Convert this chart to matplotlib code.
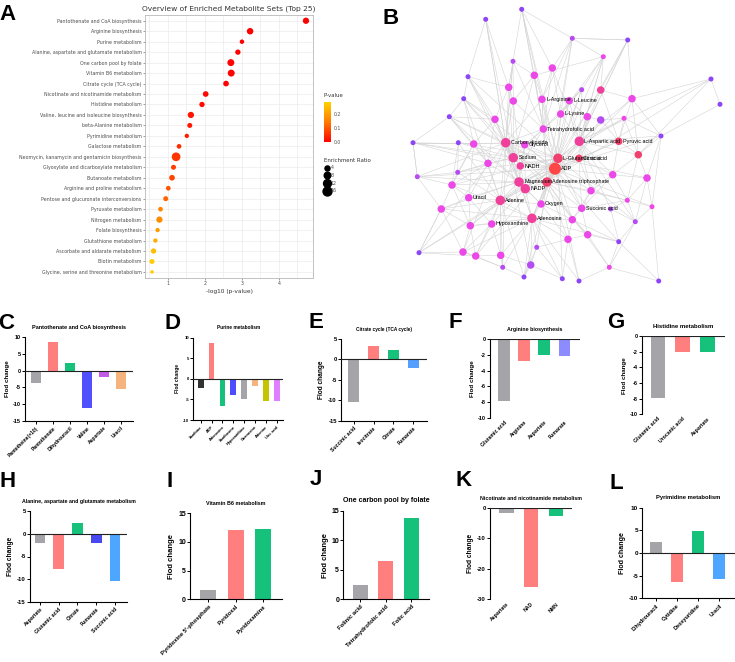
import numpy as np
import matplotlib
matplotlib.use("Agg")
import matplotlib.pyplot as plt
from matplotlib.collections import LineCollection
from matplotlib.colors import LinearSegmentedColormap, Normalize
from matplotlib.cm import ScalarMappable
from matplotlib.lines import Line2D

plt.rcParams['axes.unicode_minus'] = False

# ---------------- panel A data ----------------
pathways = ["Pantothenate and CoA biosynthesis", "Arginine biosynthesis", "Purine metabolism",
            "Alanine, aspartate and glutamate metabolism", "One carbon pool by folate",
            "Vitamin B6 metabolism", "Citrate cycle (TCA cycle)",
            "Nicotinate and nicotinamide metabolism", "Histidine metabolism",
            "Valine, leucine and isoleucine biosynthesis", "beta-Alanine metabolism",
            "Pyrimidine metabolism", "Galactose metabolism",
            "Neomycin, kanamycin and gentamicin biosynthesis",
            "Glyoxylate and dicarboxylate metabolism", "Butanoate metabolism",
            "Arginine and proline metabolism", "Pentose and glucuronate interconversions",
            "Pyruvate metabolism", "Nitrogen metabolism", "Folate biosynthesis",
            "Glutathione metabolism", "Ascorbate and aldarate metabolism", "Biotin metabolism",
            "Glycine, serine and threonine metabolism"]
neglogp = [4.73, 3.22, 3.00, 2.89, 2.70, 2.71, 2.57, 2.02, 1.92, 1.62, 1.59, 1.51, 1.30,
           1.22, 1.15, 1.11, 1.01, 0.94, 0.80, 0.77, 0.72, 0.66, 0.61, 0.57, 0.57]
enrich = [7, 7.6, 2.7, 4.5, 9, 9, 5.4, 5.4, 4.5, 7, 3.8, 2.3, 3.1, 15, 3.8, 5.4, 3.1, 3.8,
          3.1, 7, 2.3, 2.3, 4.5, 3.8, 1]
size_legend = [4, 8, 12, 16]

# ---------------- panel B data (network layout, pixel coords) ----------------
node_x = [521.7, 485.7, 572.3, 627.7, 603.3, 513.0, 552.3, 468.0, 534.3, 711.0,
          508.7, 581.7, 600.7, 463.7, 632.0, 720.0, 513.3, 542.0, 569.3, 449.3,
          560.7, 587.3, 600.7, 624.0, 495.0, 543.3, 661.0, 413.0, 458.3, 473.7,
          505.7, 524.7, 579.3, 618.7, 638.3, 513.3, 558.0, 579.0, 488.0, 520.3,
          555.0, 417.3, 457.7, 612.7, 647.0, 452.0, 519.0, 547.0, 525.3, 591.0,
          468.7, 500.3, 541.0, 441.3, 581.7, 610.7, 627.3, 652.0, 532.0, 572.3,
          635.3, 470.3, 491.7, 587.7, 568.0, 618.7, 419.0, 463.0, 475.7, 500.7,
          536.7, 502.7, 530.7, 609.3, 524.0, 562.3, 579.0, 658.7]
node_y = [9.3, 19.3, 38.3, 40.0, 56.7, 61.3, 68.0, 76.7, 75.3, 79.0,
          87.3, 89.7, 90.0, 98.7, 98.7, 104.3, 101.0, 99.3, 100.7, 116.7,
          114.0, 116.7, 120.0, 118.3, 119.3, 129.0, 136.0, 142.7, 142.7, 144.0,
          142.7, 144.7, 141.3, 141.3, 154.7, 157.7, 158.3, 158.3, 163.3, 166.0,
          168.7, 176.7, 172.3, 174.7, 178.0, 185.0, 182.0, 182.0, 188.7, 190.7,
          197.7, 200.3, 204.0, 209.0, 208.3, 209.0, 200.3, 206.7, 218.3, 219.7,
          221.7, 225.7, 224.0, 234.7, 239.3, 241.7, 252.7, 252.0, 256.0, 255.3,
          247.3, 267.3, 265.0, 267.3, 277.0, 278.7, 281.0, 281.0]
node_col = list("ppvpmvmpmp mvkpmpmmmp mmvmmmpppm kmkrrkrrmk Rvvmmmkrkm "
                "mkmmmvmmkm vmmmmppmmm vvvmpppp".replace(" ", ""))
node_sz = [1, 1, 1, 1, 1, 1, 2, 1, 2, 1, 2, 1, 2, 1, 2, 1, 2, 2, 2, 1,
           2, 2, 2, 1, 2, 2, 1, 1, 1, 2, 3, 2, 3, 2, 2, 3, 3, 2, 2, 2,
           4, 1, 1, 2, 2, 2, 3, 3, 3, 2, 2, 3, 2, 2, 2, 1, 1, 1, 3, 2,
           1, 2, 2, 2, 2, 1, 1, 2, 2, 2, 1, 1, 2, 1, 1, 1, 1, 1]
node_labels = {18: "L-Arginine", 19: "L-Leucine", 21: "L-Lysine", 26: "Tetrahydrofolic acid",
               31: "Carbon dioxide", 32: "Glycerol", 33: "L-Aspartic acid", 34: "Pyruvic acid",
               36: "Sodium", 37: "L-Glutamic acid", 38: "Citric acid", 40: "NADH", 41: "ADP",
               47: "Magnesium", 48: "Adenosine triphosphate", 49: "NADP", 51: "Uracil",
               52: "Adenine", 53: "Oxygen", 55: "Succinic acid", 59: "Adenosine",
               63: "Hypoxanthine"}
adjacency = {
    1: [7, 18, 11, 3, 9], 2: [8, 11, 31], 3: [5, 4, 7, 18, 21], 4: [3, 15, 13, 33],
    5: [9, 12, 13, 21, 37, 33], 6: [11, 17, 9, 31], 7: [18, 21, 26, 33], 8: [14, 11, 25, 36],
    9: [18, 17, 26, 36], 10: [16, 15, 35], 11: [25, 31, 17, 36], 12: [21, 19, 37, 33],
    13: [15, 34, 33, 37], 14: [20, 25, 31, 30], 15: [34, 35, 27, 37], 16: [27],
    17: [31, 36, 26, 40], 18: [19, 26, 37, 41, 48, 31], 19: [21, 22, 33, 37, 48],
    20: [25, 28, 30, 39], 21: [26, 37, 41, 33], 22: [33, 23, 38], 23: [34, 24, 38],
    24: [34, 35, 27], 25: [30, 31, 39, 36], 26: [31, 32, 37, 41, 48, 36, 40, 1, 3, 6, 9, 12],
    27: [35, 45, 58], 28: [29, 42, 30, 39], 29: [30, 43, 46], 30: [39, 31, 46, 51],
    31: [32, 36, 40, 47, 49, 41, 48, 52, 59, 37, 2, 6, 20, 28, 42, 67, 72, 68, 73, 64],
    32: [37, 40, 41, 47, 49],
    33: [34, 37, 38, 41, 48, 44, 50, 4, 5, 10, 24, 27, 35, 56, 61],
    34: [35, 38, 44, 41], 35: [45, 44, 57],
    36: [40, 39, 47, 52, 41, 2, 14, 29, 43, 28],
    37: [38, 41, 48, 49, 40, 53, 59, 55, 47, 52, 1, 8, 29, 43, 46, 62, 69, 76, 61, 45, 24],
    38: [41, 44, 50, 55, 48], 39: [46, 51, 52, 47], 40: [47, 49, 41],
    41: [48, 49, 47, 52, 53, 59, 55, 50, 60, 44, 4, 14, 20, 28, 42, 54, 67, 75, 77, 66, 58,
         27],
    42: [43, 46, 54, 28], 43: [46, 39, 30],
    44: [45, 50, 57, 55], 45: [57, 58, 61], 46: [54, 51, 62],
    47: [48, 49, 52, 51, 59, 53, 8, 20, 25, 30, 42, 46],
    48: [49, 53, 59, 55, 60, 50, 3, 10, 12, 15, 23, 57, 74, 71, 65],
    49: [52, 53, 59, 63], 50: [55, 57, 60],
    51: [52, 62, 63, 54], 52: [59, 63, 53, 62, 70, 14, 29, 43, 54, 67, 75, 72, 69],
    53: [59, 55, 60, 65],
    54: [62, 67, 68], 55: [60, 64, 56, 57], 56: [57, 61, 66], 57: [58, 61], 58: [61, 78],
    59: [63, 60, 65, 70, 71, 73, 46, 54, 62, 68, 72, 75, 76, 77, 66],
    60: [64, 65, 66], 61: [66, 74], 62: [63, 68, 69],
    63: [69, 70, 68], 64: [66, 74, 65], 65: [71, 76, 77], 66: [74, 78], 67: [68, 69, 54],
    68: [69, 72], 69: [70, 72], 70: [72, 73], 71: [73, 75, 76], 72: [75], 73: [75, 76],
    74: [77, 78]}

# ---------------- bar panel data ----------------
c_names = ["Pantetheine(×10)", "Pantothenate", "Dihydrouracil", "Valine", "Aspartate", "Uracil"]
c_vals = [-3.7, 8.5, 2.4, -11.3, -2.0, -5.5]
d_names = ["Xanthine", "ADP", "Adenosine", "Xanthosine", "Hypoxanthine", "Guanosine",
           "Adenine", "Uric acid"]
d_vals = [-2.3, 8.8, -6.5, -4.0, -4.8, -1.8, -5.5, -5.4]
e_names = ["Succinic acid", "Isocitrate", "Citrate", "Fumarate"]
e_vals = [-10.3, 3.2, 2.2, -2.0]
f_names = ["Glutamic acid", "Arginine", "Aspartate", "Fumarate"]
f_vals = [-7.9, -2.8, -2.0, -2.1]
g_names = ["Glutamic acid", "Urocanic acid", "Aspartate"]
g_vals = [-7.9, -2.0, -2.0]
h_names = ["Aspartate", "Glutamic acid", "Citrate", "Fumarate", "Succinic acid"]
h_vals = [-2.0, -7.8, 2.3, -2.0, -10.3]
i_names = ["Pyridoxine 5'-phosphate", "Pyridoxal", "Pyridoxamine"]
i_vals = [1.6, 12.1, 12.2]
j_names = ["Folinic acid", "Tetrahydrofolic acid", "Folic acid"]
j_vals = [2.5, 6.5, 13.7]
k_names = ["Aspartate", "NAD", "NMN"]
k_vals = [-1.8, -26.0, -2.5]
l_names = ["Dihydrouracil", "Cytidine", "Deoxyuridine", "Uracil"]
l_vals = [2.4, -6.5, 4.8, -5.7]

GRAY, SAL, GRN = "#a4a4a9", "#ff7f7f", "#16c27b"

W, H = 735, 662
fig = plt.figure(figsize=(W / 100, H / 100), dpi=100)


def rect(l, t, r, b):
    return [l / W, 1 - b / H, (r - l) / W, (b - t) / H]


def letter(x, y, s):
    fig.text(x / W, 1 - y / H, s, fontsize=16, fontweight='bold', family='Liberation Sans',
             ha='center', va='center')


# ---------------- panel A ----------------
axA = fig.add_axes(rect(145, 15, 313, 277.7))
cmap = LinearSegmentedColormap.from_list("pv", ["#ff0000", "#ff7a00", "#ffd200"])
norm = Normalize(0, 0.28)
pvals = 10 ** (-np.array(neglogp))
ypos = np.arange(len(pathways))


def er_size(er):
    return 0.72 * np.sqrt(8 + 4.5 * np.asarray(er, float))


axA.scatter(neglogp, ypos, s=er_size(enrich) ** 2, c=pvals, cmap=cmap, norm=norm,
            linewidths=0, zorder=3)
axA.set_xlim(0.38, 4.92)
axA.set_ylim(len(pathways) - 0.45, -0.55)
axA.set_yticks(ypos)
axA.set_yticklabels(pathways, fontsize=3.3, color='#4d4d4d')
axA.set_xticks([1, 2, 3, 4])
axA.set_xticks([0.5, 1.5, 2.5, 3.5, 4.5], minor=True)
axA.tick_params(axis='both', length=1.5, width=0.4, color='#555555', labelsize=3.4,
                labelcolor='#4d4d4d', pad=1)
axA.tick_params(axis='x', which='minor', length=0)
axA.grid(True, which='both', color='#ebebeb', lw=0.5)
axA.set_axisbelow(True)
for sp in axA.spines.values():
    sp.set_color('#b8b8b8')
    sp.set_linewidth(0.6)
axA.set_xlabel("-log10 (p-value)", fontsize=4.2, color='#333333', labelpad=2)
axA.set_title("Overview of Enriched Metabolite Sets (Top 25)", fontsize=5.4, color='#333333',
              pad=3)

axCB = fig.add_axes(rect(324.3, 102, 330.7, 142.3))
cb = fig.colorbar(ScalarMappable(norm=norm, cmap=cmap), cax=axCB)
cb.outline.set_visible(False)
cb.set_ticks([0.0, 0.1, 0.2])
cb.ax.tick_params(length=0, labelsize=3.3, labelcolor='#4d4d4d', pad=2)
fig.text(323.5 / W, 1 - 95.7 / H, "P-value", fontsize=3.9, color='#333333', va='center')

handles = [Line2D([], [], marker='o', ls='', color='k', markersize=er_size(v))
           for v in size_legend]
leg = fig.legend(handles, [str(v) for v in size_legend], title="Enrichment Ratio",
                 loc='upper left', bbox_to_anchor=(320 / W, 1 - 154 / H), frameon=False,
                 fontsize=3.4, title_fontsize=3.9, labelspacing=0.55, handletextpad=0.2,
                 handlelength=1.2, borderpad=0.3)
leg._legend_box.align = "left"
for t in leg.get_texts():
    t.set_color('#4d4d4d')
leg.get_title().set_color('#333333')
letter(7.5, 15, "A")

# ---------------- panel B ----------------
axB = fig.add_axes(rect(340, 0, 735, 290))
axB.set_xlim(340, 735)
axB.set_ylim(290, 0)
axB.axis('off')
segs = []
for a, nbrs in adjacency.items():
    for b in nbrs:
        segs.append([(node_x[a - 1], node_y[a - 1]), (node_x[b - 1], node_y[b - 1])])
axB.add_collection(LineCollection(segs, colors='#d4d4d4', linewidths=0.4, zorder=1))
col_map = {'p': '#8e45f7', 'v': '#b44cf2', 'm': '#ec48e8', 'k': '#f0409c', 'r': '#f2406e',
           'R': '#ff4646'}
size_map = {1: 5.0, 2: 7.5, 3: 9.5, 4: 12.0}
axB.scatter(node_x, node_y, s=[(size_map[s] * 0.72) ** 2 for s in node_sz],
            c=[col_map[c] for c in node_col], linewidths=0, zorder=2)
for i, lab in node_labels.items():
    r = size_map[node_sz[i - 1]] / 2
    axB.text(node_x[i - 1] + r + 0.3, node_y[i - 1], lab, fontsize=3.9,
             family='Liberation Sans', va='center', ha='left', zorder=3)
letter(390.5, 18.3, "B")


# ---------------- bar panels ----------------
def bar_panel(box, title, names, vals, cols, ylim, yticks, xlim, tfs, fs, xfs,
              bottom_line=True, width=0.58):
    ax = fig.add_axes(rect(*box))
    x = np.arange(len(names))
    ax.bar(x, vals, width=width, color=cols, zorder=2)
    ax.set_xlim(*xlim)
    ax.set_ylim(*ylim)
    ax.set_yticks(yticks)
    ax.set_yticklabels([str(v) for v in yticks], fontsize=fs, fontweight='bold',
                       family='Liberation Sans')
    ax.set_xticks(x)
    ax.set_xticklabels(names, rotation=45, ha='right', rotation_mode='anchor',
                       fontsize=xfs, fontweight='bold', family='Liberation Sans')
    if ylim[0] < 0 < ylim[1] or ylim[1] == 0:
        ax.axhline(0, color='#222222', lw=0.8, zorder=3)
    for s in ['top', 'right']:
        ax.spines[s].set_visible(False)
    ax.spines['left'].set_linewidth(0.8)
    ax.spines['bottom'].set_linewidth(0.8)
    ax.spines['bottom'].set_visible(bottom_line)
    ax.tick_params(axis='y', length=2, width=0.7, pad=1)
    ax.tick_params(axis='x', length=2 if bottom_line else 0, width=0.7, pad=1.5)
    ax.set_ylabel("Flod change", fontsize=fs + 0.5, fontweight='bold',
                  family='Liberation Sans', labelpad=2)
    ax.set_title(title, fontsize=tfs, fontweight='bold', family='Liberation Sans', pad=6)
    return ax


bar_panel((25, 337.3, 133, 420.7), "Pantothenate and CoA biosynthesis", c_names, c_vals,
          [GRAY, SAL, GRN, "#5050ff", "#c25ce8", "#f5b47e"], (-15, 10),
          [-15, -10, -5, 0, 5, 10], (-0.65, 5.7), 4, 4, 3.6)
letter(6.5, 323.3, "C")

bar_panel((193.3, 337.7, 283, 420), "Purine metabolism", d_names, d_vals,
          ["#333333", SAL, GRN, "#4d4dff", GRAY, "#f5b47e", "#c4c400", "#e07fff"],
          (-10, 10), [-10, -5, 0, 5, 10], (-0.68, 7.58), 3.4, 3, 2.8, width=0.52)
letter(172.5, 323.3, "D")

bar_panel((341, 339, 427, 420.7), "Citrate cycle (TCA cycle)", e_names, e_vals,
          [GRAY, SAL, GRN, "#55a0ff"], (-15, 5), [-15, -10, -5, 0, 5], (-0.63, 3.68),
          3.4, 4.2, 3.7)
letter(315.5, 323, "E")

bar_panel((490, 339.3, 580, 417.7), "Arginine biosynthesis", f_names, f_vals,
          [GRAY, SAL, GRN, "#8c8cff"], (-10, 0), [-10, -8, -6, -4, -2, 0], (-0.7, 3.78),
          3.8, 4, 3.7, bottom_line=False)
letter(455.5, 323, "F")

bar_panel((642.3, 336, 725, 414.3), "Histidine metabolism", g_names, g_vals,
          [GRAY, SAL, GRN], (-10, 0), [-10, -8, -6, -4, -2, 0], (-0.62, 2.7),
          4.3, 4, 3.7, bottom_line=False)
letter(615.5, 322.5, "G")

bar_panel((30, 511, 127, 602), "Alanine, aspartate and glutamate metabolism", h_names, h_vals,
          [GRAY, SAL, GRN, "#4848f0", "#4da6ff"], (-15, 5), [-15, -10, -5, 0, 5],
          (-0.53, 4.64), 3.8, 4.3, 3.7)
letter(7.5, 481.3, "H")

bar_panel((190, 513.3, 281.7, 599.3), "Vitamin B6 metabolism", i_names, i_vals,
          [GRAY, SAL, GRN], (0, 15), [0, 5, 10, 15], (-0.67, 2.67), 3.9, 5, 4.2)
letter(169.7, 481.7, "I")

bar_panel((343.3, 510.7, 429, 599.3), "One carbon pool by folate", j_names, j_vals,
          [GRAY, SAL, GRN], (0, 15), [0, 5, 10, 15], (-0.67, 2.7), 5, 5, 4.3)
letter(316, 479.7, "J")

bar_panel((490, 508, 571.7, 599.3), "Nicotinate and nicotinamide metabolism", k_names, k_vals,
          [GRAY, SAL, GRN], (-30, 0), [-30, -20, -10, 0], (-0.66, 2.63), 3.8, 4.3, 3.7,
          bottom_line=False)
letter(463.3, 480.8, "K")

bar_panel((642.3, 507.7, 735, 598.3), "Pyrimidine metabolism", l_names, l_vals,
          [GRAY, SAL, GRN, "#4da6ff"], (-10, 10), [-10, -5, 0, 5, 10], (-0.64, 3.74),
          4.2, 4.6, 4)
letter(616.7, 483.3, "L")

fig.savefig("out.png", dpi=100)
